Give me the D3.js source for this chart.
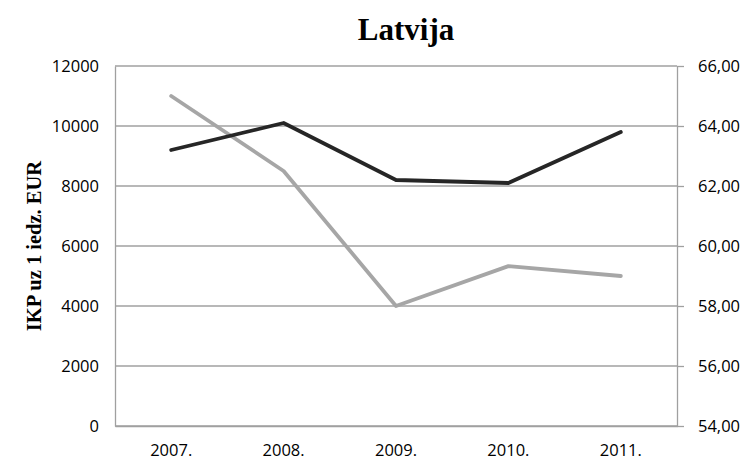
<!DOCTYPE html>
<html>
<head>
<meta charset="utf-8">
<title>Latvija</title>
<script src="https://cdn.jsdelivr.net/npm/d3@7"></script>
<style>
  body { margin: 0; background: #fff; }
  .tick text { font-family: "Open Sans", sans-serif; font-size: 16.5px; fill: #000; }
</style>
</head>
<body>
<script>
// data
var years = ["2007.", "2008.", "2009.", "2010.", "2011."];
var ikp = [9200, 10100, 8200, 8100, 9800];        // left axis, black line
var rightVals = [65.0, 62.5, 58.0, 59.33, 59.0];  // right axis, grey line
var leftTicks = [0, 2000, 4000, 6000, 8000, 10000, 12000];
var rightTicks = [54, 56, 58, 60, 62, 64, 66];

var W = 753, H = 463;
// note: "top" is a reserved window property, so use other names
var plotL = 115, plotR = 677, plotT = 66, plotB = 426;

var svg = d3.select("body").append("svg")
    .attr("width", W)
    .attr("height", H);

var x = d3.scaleBand().domain(years).range([plotL, plotR]);
var yL = d3.scaleLinear().domain([0, 12000]).range([plotB, plotT]);
var yR = d3.scaleLinear().domain([54, 66]).range([plotB, plotT]);

// gridlines
svg.append("g")
   .selectAll("line")
   .data(leftTicks)
   .enter().append("line")
   .attr("x1", plotL).attr("x2", plotR)
   .attr("y1", function(d){ return yL(d); })
   .attr("y2", function(d){ return yL(d); })
   .attr("stroke", "#a0a0a0")
   .attr("stroke-width", 1.3);

// left axis
var gL = svg.append("g")
   .attr("transform", "translate(" + plotL + ",0)")
   .call(d3.axisLeft(yL).tickValues(leftTicks).tickSize(0).tickPadding(16)
        .tickFormat(d3.format("d")));
gL.select(".domain").attr("stroke", "#a0a0a0").attr("stroke-width", 1.3);

// right axis
var gR = svg.append("g")
   .attr("transform", "translate(" + plotR + ",0)")
   .call(d3.axisRight(yR).tickValues(rightTicks).tickSize(7).tickSizeOuter(0).tickPadding(14)
        .tickFormat(function(d){ return d3.format(".2f")(d).replace(".", ","); }));
gR.select(".domain").attr("stroke", "#a0a0a0").attr("stroke-width", 1.3);
gR.selectAll(".tick line").attr("stroke", "#a0a0a0").attr("stroke-width", 1.3);

// bottom axis
var gB = svg.append("g")
   .attr("transform", "translate(0," + plotB + ")")
   .call(d3.axisBottom(x).tickSize(0).tickPadding(18));
gB.select(".domain").attr("stroke", "#a0a0a0").attr("stroke-width", 1.3);

// lines
var lineL = d3.line()
    .x(function(d, i){ return x(years[i]) + x.bandwidth() / 2; })
    .y(function(d){ return yL(d); });
var lineR = d3.line()
    .x(function(d, i){ return x(years[i]) + x.bandwidth() / 2; })
    .y(function(d){ return yR(d); });

svg.append("path")
   .datum(rightVals)
   .attr("d", lineR)
   .attr("fill", "none")
   .attr("stroke", "#a6a6a6")
   .attr("stroke-width", 3.8)
   .attr("stroke-linecap", "round")
   .attr("stroke-linejoin", "round");

svg.append("path")
   .datum(ikp)
   .attr("d", lineL)
   .attr("fill", "none")
   .attr("stroke", "#262626")
   .attr("stroke-width", 3.8)
   .attr("stroke-linecap", "round")
   .attr("stroke-linejoin", "round");

// title
svg.append("text")
   .attr("x", 406).attr("y", 40)
   .attr("text-anchor", "middle")
   .style("font-family", "'Liberation Serif', serif")
   .style("font-weight", "bold")
   .style("font-size", "31px")
   .text("Latvija");

// y axis title
svg.append("text")
   .attr("transform", "translate(41,246) rotate(-90)")
   .attr("text-anchor", "middle")
   .style("font-family", "'Liberation Serif', serif")
   .style("font-weight", "bold")
   .style("font-size", "20.5px")
   .text("IKP uz 1 iedz. EUR");
</script>
</body>
</html>
